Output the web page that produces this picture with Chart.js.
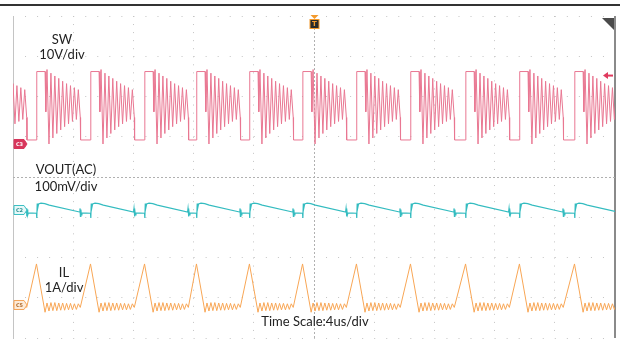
<!DOCTYPE html>
<html>
<head>
<meta charset="utf-8">
<script src="https://cdn.jsdelivr.net/npm/chart.js@4.4.1/dist/chart.umd.min.js"></script>
<style>
    html, body { margin: 0; padding: 0; background: #fff; }
    #wrap { position: relative; width: 620px; height: 339px; overflow: hidden; }
    canvas { position: absolute; left: 0; top: 0; }
    #topline { position: absolute; left: 0; top: 4px; width: 620px; height: 2px; background: #333; }
    .lbl { position: absolute; font-family: Lato, sans-serif; font-size: 13px; line-height: 13px; color: #222; transform: translateX(-50%); white-space: nowrap; }
</style>
</head>
<body>
<div id="wrap">
    <canvas id="scope" width="620" height="339"></canvas>
    <div id="topline"></div>
    <div class="lbl" style="left:62px; top:33px">SW</div>
    <div class="lbl" style="left:62px; top:48px">10V/div</div>
    <div class="lbl" style="left:66px; top:163px">VOUT(AC)</div>
    <div class="lbl" style="left:66px; top:180px">100mV/div</div>
    <div class="lbl" style="left:64px; top:266px">IL</div>
    <div class="lbl" style="left:64px; top:281px">1A/div</div>
    <div class="lbl" style="left:315px; top:315px">Time Scale:4us/div</div>
</div>
<script>
// 每个开关周期的起点 = SW 上升沿 (us)，第一个是左边被截掉的周期
const riseTimes = [-22.0, -18.44, -14.85, -11.26, -7.81, -4.29, -0.76, 2.82, 6.41, 10.07, 13.65, 17.31];

// SW 一个周期：相对上升沿的时间 (us) / 电压 (V)
const swDt = [0, 0.02, 0.57, 0.62, 0.70, 0.83, 0.96, 1.09, 1.22, 1.35, 1.48, 1.61, 1.74, 1.87, 2.00, 2.13, 2.26, 2.39, 2.52, 2.65, 2.78, 2.91, 2.93];
const swV = [1, 18, 18, 8, 18.5, 0, 17.6, 1.5, 16.9, 2.6, 16.3, 3.5, 15.6, 4.3, 15.0, 5.0, 14.5, 5.6, 14.0, 6.1, 13.5, 6.6, 1];

// VOUT(AC) 一个周期 (mV)
const voDt = [0, 0.02, 0.05, 0.09, 0.14, 0.30, 0.55, 0.85, 2.86, 2.89, 2.92, 2.95, 2.98, 3.02];
const voMv = [-8, -20, 16, 6, 15, 17, 16, 12, -5, 4, -16, 1, -12, -7];

// IL 一个周期 (A)
const ilDt = [0, 0.57, 0.70, 0.83, 0.96, 1.09, 1.22, 1.35, 1.48, 1.61, 1.74, 1.87, 2.00, 2.13, 2.26, 2.39, 2.52, 2.65, 2.78, 2.91];
const ilA = [1.02, -0.18, 0.05, -0.15, 0.06, -0.14, 0.06, -0.14, 0.05, -0.13, 0.05, -0.13, 0.04, -0.12, 0.04, -0.12, 0.03, -0.11, 0.03, -0.06];

const triggerLevel = 17; // V, 右侧箭头

// 各通道零点所在的格 (中心线 = 0)，以及每格大小
const swZero = 0.82, swPerDiv = 10;
const voZero = -0.82, voPerDiv = 100;
const ilZero = -3.18, ilPerDiv = 1;

function buildTrace(dts, vals) {
    const pts = [];
    riseTimes.forEach(t0 => {
        dts.forEach((dt, i) => pts.push({ x: +(t0 + dt).toFixed(3), y: vals[i] }));
    });
    return pts;
}

function chanAxis(zero, perDiv) {
    return { display: false, min: (-4 - zero) * perDiv, max: (4 - zero) * perDiv };
}

function drawTag(ctx, x, y, txt, fill, stroke, textColor) {
    ctx.save();
    ctx.beginPath();
    ctx.moveTo(x, y - 4.5);
    ctx.lineTo(x + 10, y - 4.5);
    ctx.lineTo(x + 13, y);
    ctx.lineTo(x + 10, y + 4.5);
    ctx.lineTo(x, y + 4.5);
    ctx.closePath();
    ctx.fillStyle = fill;
    ctx.fill();
    ctx.strokeStyle = stroke;
    ctx.lineWidth = 1;
    ctx.stroke();
    ctx.fillStyle = textColor;
    ctx.font = 'bold 5px "DejaVu Sans"';
    ctx.textAlign = 'center';
    ctx.textBaseline = 'middle';
    ctx.fillText(txt, x + 5.5, y + 0.5);
    ctx.restore();
}

// 示波器上的标记：通道标签、触发标记、右上角三角
const scopeMarks = {
    id: 'scopeMarks',
    afterDatasetsDraw(chart) {
        const { ctx, chartArea, scales } = chart;
        const left = chartArea.left + 1;
        drawTag(ctx, left, scales.ySW.getPixelForValue(0), 'C3', '#d8365c', '#d8365c', '#fff');
        drawTag(ctx, left, scales.yVO.getPixelForValue(0), 'C2', '#e6f8f8', '#3cc0c4', '#2a8f92');
        drawTag(ctx, left, scales.yIL.getPixelForValue(0), 'C5', '#fdebd8', '#f5a55a', '#b06a2a');

        // 触发位置 T
        const tx = Math.round(scales.x.getPixelForValue(0)) + 0.5;
        ctx.save();
        ctx.fillStyle = '#f39a2c';
        ctx.beginPath();
        ctx.moveTo(tx - 4, chartArea.top - 1);
        ctx.lineTo(tx + 4, chartArea.top - 1);
        ctx.lineTo(tx, chartArea.top + 3);
        ctx.closePath();
        ctx.fill();
        ctx.fillRect(tx - 5, chartArea.top + 3, 10, 10);
        ctx.fillStyle = '#2a2a2a';
        ctx.fillRect(tx - 4, chartArea.top + 4, 8, 8);
        ctx.fillStyle = '#f39a2c';
        ctx.font = 'bold 7px "DejaVu Sans"';
        ctx.textAlign = 'center';
        ctx.textBaseline = 'middle';
        ctx.fillText('T', tx, chartArea.top + 8.5);

        // 触发电平箭头
        const ty = scales.ySW.getPixelForValue(triggerLevel);
        const rx = chartArea.right - 2;
        ctx.fillStyle = '#e03a5e';
        ctx.strokeStyle = '#e03a5e';
        ctx.beginPath();
        ctx.moveTo(rx - 10, ty);
        ctx.lineTo(rx - 5, ty - 3.5);
        ctx.lineTo(rx - 5, ty + 3.5);
        ctx.closePath();
        ctx.fill();
        ctx.lineWidth = 2;
        ctx.beginPath();
        ctx.moveTo(rx - 6, ty);
        ctx.lineTo(rx, ty);
        ctx.stroke();

        // 右上角三角
        ctx.fillStyle = '#4a4a4a';
        ctx.beginPath();
        ctx.moveTo(chartArea.right - 13, chartArea.top + 2);
        ctx.lineTo(chartArea.right - 1, chartArea.top + 2);
        ctx.lineTo(chartArea.right - 1, chartArea.top + 14);
        ctx.closePath();
        ctx.fill();
        ctx.restore();
    }
};

const gridDot = '#c4c4c4';

new Chart(document.getElementById('scope'), {
    type: 'line',
    data: {
        datasets: [
            { label: 'SW', data: buildTrace(swDt, swV), yAxisID: 'ySW', borderColor: '#e97792', borderWidth: 1 },
            { label: 'VOUT(AC)', data: buildTrace(voDt, voMv), yAxisID: 'yVO', borderColor: '#34bcc0', borderWidth: 1.2 },
            { label: 'IL', data: buildTrace(ilDt, ilA), yAxisID: 'yIL', borderColor: '#f8a655', borderWidth: 1 }
        ]
    },
    options: {
        responsive: false,
        animation: false,
        events: [],
        layout: { padding: { left: 13, top: 16, right: 5, bottom: 1 } },
        elements: { point: { radius: 0 }, line: { tension: 0 } },
        plugins: { legend: { display: false }, tooltip: { enabled: false } },
        scales: {
            x: {
                type: 'linear',
                min: -20,
                max: 20,
                ticks: { display: false, stepSize: 4 },
                grid: {
                    drawTicks: false,
                    color: ctx => ctx.tick.value === 20 ? '#8a8a8a' : (ctx.tick.value === 0 ? '#b0b0b0' : gridDot),
                    lineWidth: ctx => ctx.tick.value === 20 ? 2 : 1
                },
                border: {
                    display: false,
                    dash: ctx => (ctx.tick.value === -20 || ctx.tick.value === 20) ? [] : (ctx.tick.value === 0 ? [2, 2] : [1, 7.05])
                }
            },
            y: {
                min: -4,
                max: 4,
                ticks: { display: false, stepSize: 1 },
                grid: {
                    drawTicks: false,
                    color: ctx => ctx.tick.value === 0 ? '#b0b0b0' : gridDot
                },
                border: {
                    display: false,
                    dash: ctx => ctx.tick.value === 0 ? [2, 2] : [1, 11.04]
                }
            },
            ySW: chanAxis(swZero, swPerDiv),
            yVO: chanAxis(voZero, voPerDiv),
            yIL: chanAxis(ilZero, ilPerDiv)
        }
    },
    plugins: [scopeMarks]
});
</script>
</body>
</html>
